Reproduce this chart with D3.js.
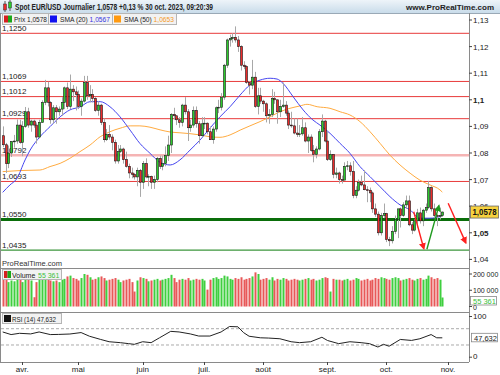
<!DOCTYPE html>
<html><head><meta charset="utf-8">
<script src="https://cdn.jsdelivr.net/npm/d3@7"></script>
<style>
body{margin:0;background:#fff}
svg{display:block;font-family:"Liberation Sans",Arial,sans-serif}
</style></head><body>
<script>
// daily candles, 23 mars -> 30 oct. 2023 (index 0..157)
const open = [1.0865,1.0831,1.0760,1.0800,1.0843,1.0845,1.0905,1.0840,1.0900,1.0955,1.0905,1.0920,1.0905,1.0860,1.0915,1.0990,1.1045,1.0990,1.0925,1.0970,1.0955,1.0965,1.0990,1.1045,1.0975,1.1040,1.1030,1.1020,1.0975,1.0995,1.1065,1.1015,1.1020,1.1005,1.0960,1.0980,1.0915,1.0850,1.0870,1.0860,1.0840,1.0770,1.0805,1.0815,1.0775,1.0750,1.0725,1.0720,1.0710,1.0735,1.0690,1.0760,1.0710,1.0712,1.0690,1.0700,1.0780,1.0750,1.0760,1.0790,1.0830,1.0945,1.0940,1.0925,1.0915,1.0980,1.0955,1.0895,1.0905,1.0960,1.0910,1.0865,1.0910,1.0912,1.0880,1.0850,1.0890,1.0970,1.0972,1.1010,1.1130,1.1225,1.1230,1.1235,1.1225,1.1200,1.1130,1.1125,1.1065,1.1055,1.1085,1.0975,1.1015,1.0995,1.0985,1.0940,1.0945,1.1005,1.1000,1.0955,1.0975,1.0980,1.0950,1.0905,1.0902,1.0875,1.0870,1.0872,1.0895,1.0845,1.0860,1.0810,1.0795,1.0815,1.0880,1.0920,1.0845,1.0775,1.0795,1.0720,1.0725,1.0700,1.0698,1.0750,1.0752,1.0730,1.0640,1.0660,1.0690,1.0680,1.0662,1.0660,1.0650,1.0590,1.0570,1.0500,1.0565,1.0572,1.0475,1.0470,1.0505,1.0550,1.0590,1.0565,1.0605,1.0620,1.0530,1.0510,1.0545,1.0575,1.0545,1.0585,1.0595,1.0670,1.0590,1.0565,1.0562,1.0565]
const high = [1.0900,1.0838,1.0828,1.0845,1.0868,1.0926,1.0925,1.0920,1.0973,1.0970,1.0925,1.0925,1.0915,1.0925,1.0998,1.1075,1.1068,1.0995,1.0980,1.0980,1.0975,1.1010,1.1050,1.1065,1.1095,1.1055,1.1050,1.1035,1.1005,1.1090,1.1090,1.1055,1.1040,1.1010,1.0995,1.0985,1.0930,1.0890,1.0905,1.0870,1.0850,1.0830,1.0830,1.0820,1.0805,1.0760,1.0745,1.0725,1.0745,1.0740,1.0770,1.0780,1.0720,1.0715,1.0715,1.0785,1.0790,1.0790,1.0825,1.0865,1.0950,1.0970,1.0940,1.0935,1.0985,1.1010,1.0965,1.0925,1.0975,1.0975,1.0920,1.0935,1.0935,1.0915,1.0900,1.0900,1.0975,1.1000,1.1025,1.1135,1.1230,1.1245,1.1250,1.1276,1.1240,1.1205,1.1145,1.1130,1.1070,1.1150,1.1105,1.1045,1.1045,1.1000,1.0990,1.0965,1.1040,1.1030,1.1000,1.1000,1.1065,1.0995,1.0960,1.0955,1.0930,1.0930,1.0905,1.0935,1.0915,1.0870,1.0870,1.0830,1.0825,1.0890,1.0945,1.0925,1.0880,1.0810,1.0795,1.0745,1.0730,1.0715,1.0765,1.0770,1.0765,1.0770,1.0675,1.0700,1.0715,1.0735,1.0675,1.0670,1.0655,1.0610,1.0580,1.0575,1.0610,1.0575,1.0485,1.0525,1.0565,1.0590,1.0595,1.0615,1.0640,1.0640,1.0540,1.0550,1.0590,1.0595,1.0590,1.0610,1.0695,1.0675,1.0610,1.0570,1.0595,1.0580]
const low = [1.0822,1.0725,1.0743,1.0785,1.0820,1.0835,1.0835,1.0788,1.0895,1.0895,1.0880,1.0895,1.0835,1.0855,1.0915,1.0980,1.0975,1.0910,1.0910,1.0910,1.0940,1.0940,1.0965,1.0965,1.0965,1.0995,1.0960,1.0965,1.0940,1.0990,1.1000,1.0990,1.0990,1.0955,1.0940,1.0905,1.0840,1.0845,1.0850,1.0810,1.0760,1.0760,1.0800,1.0760,1.0745,1.0705,1.0705,1.0700,1.0675,1.0635,1.0665,1.0705,1.0675,1.0665,1.0665,1.0690,1.0740,1.0735,1.0750,1.0770,1.0800,1.0925,1.0905,1.0895,1.0900,1.0945,1.0845,1.0880,1.0895,1.0895,1.0835,1.0860,1.0890,1.0870,1.0850,1.0835,1.0880,1.0950,1.0960,1.1000,1.1120,1.1200,1.1215,1.1215,1.1180,1.1110,1.1115,1.1060,1.1020,1.1040,1.0970,1.0945,1.0985,1.0955,1.0915,1.0910,1.0935,1.0985,1.0910,1.0935,1.0970,1.0940,1.0890,1.0895,1.0870,1.0860,1.0860,1.0865,1.0840,1.0800,1.0805,1.0765,1.0780,1.0810,1.0860,1.0840,1.0770,1.0770,1.0705,1.0705,1.0685,1.0685,1.0700,1.0735,1.0715,1.0630,1.0630,1.0655,1.0675,1.0660,1.0615,1.0615,1.0575,1.0560,1.0490,1.0490,1.0555,1.0465,1.0450,1.0460,1.0495,1.0480,1.0520,1.0560,1.0590,1.0525,1.0495,1.0505,1.0520,1.0535,1.0525,1.0575,1.0590,1.0580,1.0555,1.0525,1.0550,1.0560]
const close = [1.0831,1.0760,1.0800,1.0843,1.0845,1.0905,1.0840,1.0900,1.0955,1.0905,1.0920,1.0905,1.0860,1.0915,1.0990,1.1045,1.0990,1.0925,1.0970,1.0955,1.0965,1.0990,1.1045,1.0975,1.1040,1.1030,1.1020,1.0975,1.0995,1.1065,1.1015,1.1020,1.1005,1.0960,1.0980,1.0915,1.0850,1.0870,1.0860,1.0840,1.0770,1.0805,1.0815,1.0775,1.0750,1.0725,1.0720,1.0710,1.0735,1.0690,1.0760,1.0710,1.0712,1.0690,1.0700,1.0780,1.0750,1.0760,1.0790,1.0830,1.0945,1.0940,1.0925,1.0915,1.0980,1.0955,1.0895,1.0905,1.0960,1.0910,1.0865,1.0910,1.0912,1.0880,1.0850,1.0890,1.0970,1.0972,1.1010,1.1130,1.1225,1.1230,1.1235,1.1225,1.1200,1.1130,1.1125,1.1065,1.1055,1.1085,1.0975,1.1015,1.0995,1.0985,1.0940,1.0945,1.1005,1.1000,1.0955,1.0975,1.0980,1.0950,1.0905,1.0902,1.0875,1.0870,1.0872,1.0895,1.0845,1.0860,1.0810,1.0795,1.0815,1.0880,1.0920,1.0845,1.0775,1.0795,1.0720,1.0725,1.0700,1.0698,1.0750,1.0752,1.0730,1.0640,1.0660,1.0690,1.0680,1.0662,1.0660,1.0650,1.0590,1.0570,1.0500,1.0565,1.0572,1.0475,1.0470,1.0505,1.0550,1.0590,1.0565,1.0605,1.0620,1.0530,1.0510,1.0545,1.0575,1.0545,1.0585,1.0595,1.0670,1.0590,1.0565,1.0562,1.0565,1.0578]
// volume, thousands
const volume = [165,175,150,160,155,170,165,150,170,165,160,57,150,165,170,185,165,160,155,160,150,165,170,185,190,175,170,160,175,200,195,180,165,170,180,185,175,160,165,170,175,165,150,160,165,170,150,92,160,180,175,170,155,160,165,170,160,165,170,175,195,175,150,165,170,165,175,160,165,170,165,170,160,104,165,175,180,170,175,190,185,170,165,175,170,180,165,170,175,185,210,200,165,170,175,165,180,160,170,165,175,170,160,165,170,165,160,165,170,175,165,170,160,165,175,180,175,92,170,165,165,160,165,170,160,165,175,170,160,165,170,160,165,175,170,180,175,170,165,175,180,175,160,165,170,175,165,160,170,175,165,170,190,180,170,175,165,55.361]

// indicator readings [candle index, value]
const sma20 = [[0,1.0652],[2.6,1.0680],[5,1.0703],[8,1.0774],[9.8,1.0811],[13.3,1.0861],[16.9,1.0899],[20.5,1.0936],[24,1.0962],[27.6,1.0973],[31.2,1.0993],[34.8,1.0993],[38.3,1.0974],[41.9,1.0936],[45.5,1.0886],[49,1.0836],[52.6,1.0799],[56.2,1.0765],[59.8,1.0755],[63.3,1.0774],[66.9,1.0811],[70.5,1.0849],[74,1.0893],[77.6,1.0936],[81.2,1.0974],[84.8,1.1018],[88.3,1.1056],[91.9,1.1074],[95.5,1.1081],[98,1.1078],[100.1,1.1062],[103.7,1.1012],[107.3,1.0962],[110.8,1.0924],[113.3,1.0905],[116.9,1.0874],[120.5,1.0836],[124,1.0799],[127.6,1.0749],[131.2,1.0711],[134.8,1.0673],[138.3,1.0636],[141.9,1.0605],[145.5,1.0586],[149,1.0555],[152.6,1.0555],[156.2,1.0561],[157,1.0567]]
const sma50 = [[0,1.0730],[6.2,1.0734],[13.3,1.0736],[16.9,1.0749],[20.5,1.0761],[24,1.0780],[27.6,1.0805],[31.2,1.0830],[34.8,1.0861],[38.3,1.0880],[41.9,1.0893],[45.5,1.0902],[49,1.0902],[52.6,1.0897],[56.2,1.0887],[59.8,1.0879],[63.3,1.0876],[70.5,1.0868],[74,1.0861],[77.6,1.0859],[81.2,1.0868],[84.8,1.0886],[88.3,1.0902],[91.9,1.0918],[95.5,1.0936],[99,1.0955],[102.6,1.0968],[106.2,1.0977],[108.7,1.0983],[112.3,1.0974],[116.9,1.0968],[120.5,1.0955],[124,1.0943],[127.6,1.0918],[131.2,1.0880],[134.8,1.0836],[138.3,1.0792],[141.9,1.0755],[145.5,1.0724],[149,1.0698],[152.6,1.0680],[156.2,1.0661],[157,1.0653]]
const rsi = [[0,62],[3,55.6],[6,58.7],[10,57.2],[13,62],[17,55.6],[20,56],[24,57],[28,60.5],[31,51.5],[35,43.6],[38,38],[42,35.7],[45,33.3],[47,31.6],[50,38],[53,35.7],[56,47.7],[60,63.5],[63,62],[67,57.2],[70,52],[74,52],[78,62],[81,75.4],[84,74.7],[86,60.5],[88,51.5],[92,47.7],[95,47],[99,45.3],[103,38],[106,35.7],[110,38],[114,49],[116,41],[120,33.3],[124,38],[128,35.7],[131,33.3],[134,25],[136,31.6],[138,27],[142,43.6],[146,41.2],[149,45.3],[153,55.6],[155,47.7],[157,47.6]]

// horizontal levels drawn on the chart
const levels = [
  {v: 1.1250, label: "1,1250", kind: "res"},
  {v: 1.1069, label: "1,1069", kind: "res"},
  {v: 1.1012, label: "1,1012", kind: "res"},
  {v: 1.0929, label: "1,0929", kind: "res"},
  {v: 1.0792, label: "1,0792", kind: "pivot"},
  {v: 1.0693, label: "1,0693", kind: "res"},
  {v: 1.0550, label: "1,0550", kind: "sup"},
  {v: 1.0435, label: "1,0435", kind: "sup2"},
]
// arrows [index, price] -> [index, price]
const arrows = [
  {from: [146.8, 1.0579], to: [150.4, 1.0440], kind: "down"},
  {from: [151.5, 1.0438], to: [155.8, 1.0602], kind: "up"},
  {from: [159.1, 1.0611], to: [165.4, 1.0462], kind: "down"},
]

const priceTicks = [1.13, 1.12, 1.11, 1.10, 1.09, 1.08, 1.07, 1.06, 1.05, 1.04]
const priceTickLabels = ["1,13", "1,12", "1,11", "1,1", "1,09", "1,08", "1,07", "1,06", "1,05", "1,04"]
const volTicks = [200000, 100000, 0]
const volTickLabels = ["200 000", "100 000", "0"]
const rsiTicks = [100, 0]
const months = ["avr.", "mai", "juin", "juil.", "août", "sept.", "oct.", "nov."]
const monthStart = [7, 27, 50, 72, 93, 116, 137, 159] // trading-day index of the 1st of each month

const w = 500
const h = 375
const plotR = 469

const colUp = "#2ccb2c"
const colDown = "#ec2a2a"

const svg = d3.select("body").append("svg").attr("width", w).attr("height", h)

const x = d3.scaleLinear().domain([0, 157]).range([2.7, 442.3])
const y = d3.scaleLinear().domain([1.04, 1.13]).range([259.4, 20])
const yVol = d3.scaleLinear().domain([0, 200000]).range([306.5, 274])
const yRsi = d3.scaleLinear().domain([0, 100]).range([357.2, 316.5])

// text helper; len squeezes to the narrower chart font
const txt = (g, px, py, s, size, len) => {
  const t = g.append("text").attr("x", px).attr("y", py).attr("font-size", size).attr("fill", "#222").text(s)
  if (len) t.attr("textLength", len).attr("lengthAdjust", "spacingAndGlyphs")
  return t
}

// title bar
const defs = svg.append("defs")
const grad = defs.append("linearGradient").attr("id", "tb").attr("x1", 0).attr("y1", 0).attr("x2", 0).attr("y2", 1)
grad.append("stop").attr("offset", 0).attr("stop-color", "#eef4f9")
grad.append("stop").attr("offset", 1).attr("stop-color", "#c9dcea")
svg.append("rect").attr("x", 0).attr("y", 0).attr("width", w).attr("height", 13).attr("fill", "url(#tb)")
svg.append("line").attr("x1", 0).attr("x2", w).attr("y1", 13.5).attr("y2", 13.5).attr("stroke", "#9aa9b6")

// tiny candle icon
const ic = svg.append("g")
ic.append("line").attr("x1", 5).attr("x2", 5).attr("y1", 1).attr("y2", 12).attr("stroke", "#555")
ic.append("rect").attr("x", 3.5).attr("y", 4).attr("width", 3).attr("height", 6).attr("fill", colDown).attr("stroke", "#333").attr("stroke-width", 0.5)
ic.append("line").attr("x1", 10).attr("x2", 10).attr("y1", 0).attr("y2", 11).attr("stroke", "#555")
ic.append("rect").attr("x", 8.5).attr("y", 2).attr("width", 3).attr("height", 6).attr("fill", colUp).attr("stroke", "#333").attr("stroke-width", 0.5)

txt(svg, 15, 10, "Spot EUR/USD Journalier 1,0578 +0,13 % 30 oct. 2023, 09:20:39", 8.5, 198).attr("font-weight", "bold")
txt(svg, 494, 10, "www.ProRealTime.com", 8, null).attr("font-weight", "bold").attr("text-anchor", "end")

// panel frames
const sep = [268, 312, 362]
svg.append("g").selectAll("line").data(sep).join("line")
  .attr("x1", 0).attr("x2", plotR).attr("y1", (d) => d + 0.5).attr("y2", (d) => d + 0.5)
  .attr("stroke", "#8a8a8a")
svg.append("line").attr("x1", plotR + 0.5).attr("x2", plotR + 0.5).attr("y1", 13).attr("y2", 362).attr("stroke", "#8a8a8a")
svg.append("line").attr("x1", 0.5).attr("x2", 0.5).attr("y1", 13).attr("y2", 362).attr("stroke", "#8a8a8a")

// level lines
const levelStyle = {
  res: {c: "#e83a3a", wd: 1},
  pivot: {c: "#f5b4b4", wd: 2.5},
  sup: {c: "#0a6e0a", wd: 3},
  sup2: {c: "#3c963c", wd: 1.2},
}
const lv = svg.append("g")
lv.selectAll("line").data(levels).join("line")
  .attr("x1", 1).attr("x2", plotR).attr("y1", (d) => y(d.v)).attr("y2", (d) => y(d.v))
  .attr("stroke", (d) => levelStyle[d.kind].c).attr("stroke-width", (d) => levelStyle[d.kind].wd)

// SMAs
const lineGen = d3.line().x((d) => x(d[0])).y((d) => y(d[1])).curve(d3.curveMonotoneX)
svg.append("path").attr("d", lineGen(sma50)).attr("fill", "none").attr("stroke", "#ffab40").attr("stroke-width", 1)
svg.append("path").attr("d", lineGen(sma20)).attr("fill", "none").attr("stroke", "#4646f0").attr("stroke-width", 1)

// candles
const idx = d3.range(close.length)
const cg = svg.append("g")
cg.selectAll(".wick").data(idx).join("line").attr("class", "wick")
  .attr("x1", (i) => Math.round(x(i)) + 0.5).attr("x2", (i) => Math.round(x(i)) + 0.5)
  .attr("y1", (i) => y(high[i])).attr("y2", (i) => y(low[i]))
  .attr("stroke", "#a8a8a8")
cg.selectAll(".body").data(idx).join("rect").attr("class", "body")
  .attr("x", (i) => Math.round(x(i)) - 0.5)
  .attr("y", (i) => y(Math.max(open[i], close[i])))
  .attr("width", 2)
  .attr("height", (i) => Math.max(0.8, Math.abs(y(open[i]) - y(close[i]))))
  .attr("fill", (i) => (close[i] >= open[i] ? colUp : colDown))
  .attr("stroke", "#1a1a1a").attr("stroke-width", 0.6)

// level labels
lv.selectAll("text").data(levels).join("text")
  .attr("x", 2).attr("y", (d) => y(d.v) - 2.5)
  .attr("font-size", 8).attr("fill", "#222").text((d) => d.label)

// arrows
const arrowCol = {down: "#ff2020", up: "#1f9a1f"}
Object.entries(arrowCol).forEach(([k, c]) => {
  defs.append("marker").attr("id", "ah-" + k).attr("viewBox", "0 0 10 10").attr("refX", 8).attr("refY", 5)
    .attr("markerWidth", 5).attr("markerHeight", 5).attr("orient", "auto-start-reverse")
    .append("path").attr("d", "M0,0L10,5L0,10z").attr("fill", c)
})
svg.append("g").selectAll("line").data(arrows).join("line")
  .attr("x1", (d) => x(d.from[0])).attr("y1", (d) => y(d.from[1]))
  .attr("x2", (d) => x(d.to[0])).attr("y2", (d) => y(d.to[1]))
  .attr("stroke", (d) => arrowCol[d.kind]).attr("stroke-width", 1.4)
  .attr("marker-end", (d) => `url(#ah-${d.kind})`)

// price axis (right)
const ax = svg.append("g")
ax.selectAll("line").data(priceTicks).join("line")
  .attr("x1", plotR).attr("x2", plotR + 3).attr("y1", (d) => y(d)).attr("y2", (d) => y(d)).attr("stroke", "#444")
ax.selectAll("text").data(priceTicks).join("text")
  .attr("x", plotR + 4).attr("y", (d) => y(d) + 3).attr("font-size", 8).attr("fill", "#222")
  .attr("font-weight", (d, i) => (priceTickLabels[i] === "1,1" || priceTickLabels[i] === "1,05" ? "bold" : "normal"))
  .text((d, i) => priceTickLabels[i])

// last price box
const last = close[close.length - 1]
svg.append("rect").attr("x", plotR + 1.5).attr("y", y(last) - 6).attr("width", 28).attr("height", 12)
  .attr("fill", "#f7d23e").attr("stroke", "#666").attr("stroke-width", 0.8)
txt(svg, plotR + 3.5, y(last) + 3, "1,0578", 8.5, 24).attr("font-weight", "bold").attr("fill", "#111")

// legend row
const legendItems = [
  {name: "Prix ", val: "1,0578", vc: "#222", icon: "candle", x0: 2, x1: 48, len: 33},
  {name: "SMA (20) ", val: "1,0567", vc: "#3535e0", icon: "#1010f0", x0: 48, x1: 112, len: 50},
  {name: "SMA (50) ", val: "1,0653", vc: "#f59a25", icon: "#ff9a10", x0: 112, x1: 176, len: 50},
]
const lg = svg.append("g")
legendItems.forEach((d) => {
  lg.append("rect").attr("x", d.x0 + 0.5).attr("y", 13.5).attr("width", d.x1 - d.x0).attr("height", 11)
    .attr("fill", "#f2f2f2").attr("stroke", "#b5b5b5")
  if (d.icon === "candle") {
    lg.append("rect").attr("x", d.x0 + 2).attr("y", 15.5).attr("width", 4).attr("height", 7).attr("fill", "#d42020")
    lg.append("rect").attr("x", d.x0 + 6).attr("y", 15.5).attr("width", 4).attr("height", 7).attr("fill", "#1aa81a")
  } else {
    lg.append("rect").attr("x", d.x0 + 2).attr("y", 15.5).attr("width", 7).attr("height", 7).attr("fill", d.icon)
  }
  const t = txt(lg, d.x0 + 12, 22, null, 7, d.len)
  t.append("tspan").text(d.name)
  t.append("tspan").attr("fill", d.vc).text(d.val)
})

txt(svg, 2, 266, "ProRealTime.com", 8, 60).attr("fill", "#333")

// volume panel
svg.append("g").selectAll("rect").data(idx).join("rect")
  .attr("x", (i) => Math.round(x(i)) - 0.5).attr("width", 2)
  .attr("y", (i) => yVol(volume[i] * 1000)).attr("height", (i) => yVol(0) - yVol(volume[i] * 1000))
  .attr("fill", (i) => (close[i] >= open[i] ? "#3fcf3f" : "#e85858"))
const va = svg.append("g")
va.selectAll("line").data(volTicks).join("line")
  .attr("x1", plotR).attr("x2", plotR + 3).attr("y1", (d) => yVol(d)).attr("y2", (d) => yVol(d)).attr("stroke", "#444")
volTicks.forEach((d, i) => {
  txt(va, plotR + 4, yVol(d) + 3, volTickLabels[i], 7, null)
})
svg.append("rect").attr("x", plotR + 1.5).attr("y", 296.5).attr("width", 26).attr("height", 8.5)
  .attr("fill", "#fff").attr("stroke", "#888").attr("stroke-width", 0.8)
txt(svg, plotR + 4, 303.5, "55 361", 7.5, null).attr("fill", "#3cc03c")

svg.append("rect").attr("x", 2.5).attr("y", 269.5).attr("width", 59).attr("height", 10).attr("fill", "#f2f2f2").attr("stroke", "#b5b5b5")
svg.append("rect").attr("x", 4).attr("y", 271).attr("width", 3.5).attr("height", 7).attr("fill", "#d42020")
svg.append("rect").attr("x", 7.5).attr("y", 271).attr("width", 3.5).attr("height", 7).attr("fill", "#1aa81a")
txt(svg, 12, 277.5, "Volume", 7, null)
txt(svg, 38, 277.5, "55 361", 7, null).attr("fill", "#3cc03c")

// RSI panel
svg.append("g").selectAll("line").data([70, 30]).join("line")
  .attr("x1", 1).attr("x2", plotR).attr("y1", (d) => yRsi(d)).attr("y2", (d) => yRsi(d))
  .attr("stroke", "#aaa").attr("stroke-dasharray", "3,2")
const rsiLine = d3.line().x((d) => x(d[0])).y((d) => yRsi(d[1]))
svg.append("path").attr("d", rsiLine(rsi)).attr("fill", "none").attr("stroke", "#222").attr("stroke-width", 1)
const ra = svg.append("g")
ra.selectAll("line").data(rsiTicks).join("line")
  .attr("x1", plotR).attr("x2", plotR + 3).attr("y1", (d) => yRsi(d)).attr("y2", (d) => yRsi(d)).attr("stroke", "#444")
ra.selectAll("text").data(rsiTicks).join("text")
  .attr("x", plotR + 4).attr("y", (d) => yRsi(d) + 2).attr("font-size", 8).attr("fill", "#222").text((d) => d)
svg.append("rect").attr("x", plotR + 2.5).attr("y", yRsi(47.632) - 4.5).attr("width", 26).attr("height", 8.5)
  .attr("fill", "#fff").attr("stroke", "#888").attr("stroke-width", 0.8)
txt(svg, plotR + 5, yRsi(47.632) + 3, "47,632", 7.5, null)

svg.append("rect").attr("x", 2.5).attr("y", 313.5).attr("width", 59).attr("height", 10).attr("fill", "#f2f2f2").attr("stroke", "#b5b5b5")
svg.append("rect").attr("x", 4).attr("y", 315).attr("width", 7).attr("height", 7).attr("fill", "#111")
txt(svg, 12, 321.5, "RSI (14) 47,632", 7.5, 44)

// time axis
const ta = svg.append("g")
ta.selectAll("line").data(monthStart).join("line")
  .attr("x1", (d) => Math.round(x(d)) + 0.5).attr("x2", (d) => Math.round(x(d)) + 0.5)
  .attr("y1", 362).attr("y2", 365).attr("stroke", "#444")
ta.selectAll("text").data(monthStart).join("text")
  .attr("x", (d) => x(d)).attr("y", 371.5).attr("text-anchor", "middle")
  .attr("font-size", 8).attr("fill", "#222").text((d, i) => months[i])
</script></body></html>
